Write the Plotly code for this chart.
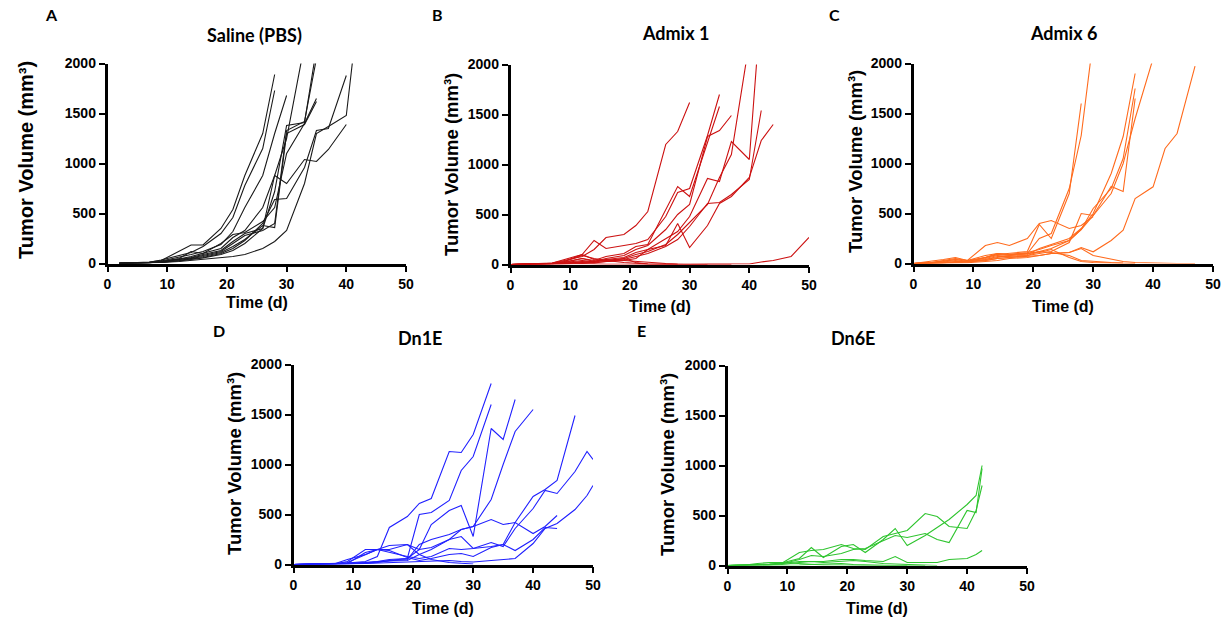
import plotly.graph_objects as go

N = None
W, H = 1228, 621

# ---------------- data (days, tumour volumes per mouse) ----------------
A_DAYS = [2, 5, 7, 9, 12, 14, 16, 19, 21, 23, 26, 28, 30, 33, 35, 37, 40, 42]
A_VOLS = [
    [2, 8, 15, 30, 120, 185, 185, 350, 540, 880, 1300, 1890, N, N, N, N, N, N],
    [1, 5, 12, 35, 80, 110, 170, 300, 460, 780, 1150, 1730, N, N, N, N, N, N],
    [1, 4, 10, 25, 60, 90, 120, 190, 320, 560, 880, 1300, 1680, N, N, N, N, N],
    [1, 3, 8, 20, 45, 70, 100, 150, 260, 330, 560, 880, 1250, 2190, N, N, N, N],
    [1, 3, 8, 18, 40, 60, 90, 130, 220, 300, 350, 720, 1380, 1410, 2150, N, N, N],
    [1, 3, 7, 15, 35, 55, 80, 120, 200, 280, 330, 400, 1330, 1420, 2050, N, N, N],
    [1, 3, 6, 12, 30, 50, 70, 110, 170, 240, 380, 360, 1300, 1390, 1620, N, N, N],
    [1, 3, 6, 12, 30, 45, 60, 100, 150, 230, 400, 640, 650, 960, 1330, 1350, 1880, N],
    [1, 2, 5, 10, 20, 30, 45, 60, 70, 90, 150, 220, 330, 800, 1300, 1370, 1480, 2520],
    [1, 3, 5, 12, 25, 40, 55, 90, 130, 200, 350, 880, 800, 1040, 1020, 1140, 1390, N],
    [1, 4, 8, 20, 50, 120, 100, 200, 290, 310, 420, 560, 1100, 1400, 1650, N, N, N],
]

B_DAYS = [0, 3, 5, 7, 9, 12, 14, 16, 19, 21, 23, 26, 28, 30, 33, 35, 37, 40, 42, 44, 47, 50]
B_VOLS = [
    [0, 5, 8, 15, 40, 80, 150, 270, 300, 390, 530, 1200, 1330, 1620, N, N, N, N, N, N, N, N],
    [0, 3, 6, 12, 30, 100, 240, 160, 190, 210, 250, 480, 720, 760, 1290, 1700, N, N, N, N, N, N],
    [0, 2, 5, 10, 25, 60, 40, 80, 110, 180, 200, 540, 780, 680, 1230, 1580, N, N, N, N, N, N],
    [0, 3, 5, 10, 20, 40, 30, 60, 90, 150, 190, 350, 500, 600, 1280, 1340, 1490, N, N, N, N, N],
    [0, 2, 4, 8, 15, 30, 20, 50, 70, 120, 150, 260, 330, 480, 860, 830, 1230, 1050, 2630, N, N, N],
    [0, 2, 4, 6, 12, 25, 30, 40, 60, 100, 130, 200, 300, 420, 600, 870, 1100, 2225, N, N, N, N],
    [0, 1, 3, 5, 10, 20, 15, 30, 50, 80, 110, 180, 250, 380, 610, 620, 700, 850, 1540, N, N, N],
    [0, 1, 3, 5, 8, 15, 20, 30, 40, 60, 150, 190, 410, 170, 390, 610, 680, 870, 1240, 1400, N, N],
    [0, 0, 2, 3, 5, 10, 5, 3, 2, 1, 0, 0, 0, 0, 5, 5, 5, 5, 25, 40, 80, 270],
    [0, 3, 6, 10, 30, 90, 60, 40, 20, 10, 5, 2, 0, 0, 0, N, N, N, N, N, N, N],
    [0, 2, 5, 15, 50, 100, 50, 30, 60, 20, 5, 0, 0, N, N, N, N, N, N, N, N, N],
    [0, 1, 3, 8, 20, 60, 30, 50, 40, 30, 20, 10, 5, 0, 0, 0, 0, N, N, N, N, N],
]

C_DAYS = [0, 3, 5, 7, 9, 12, 14, 16, 19, 21, 23, 26, 28, 30, 33, 35, 37, 40, 42, 44, 47]
C_VOLS = [
    [0, 10, 30, 50, 30, 80, 100, 90, 100, 250, 300, 750, 1280, 2240, N, N, N, N, N, N, N],
    [0, 5, 20, 40, 30, 60, 90, 100, 120, 390, 250, 700, 1600, N, N, N, N, N, N, N, N],
    [0, 3, 10, 20, 25, 50, 80, 90, 110, 140, 180, 230, 340, 480, 700, 1000, 1450, 2050, N, N, N],
    [0, 3, 8, 15, 20, 60, 90, 80, 90, 150, 190, 250, 350, 500, 900, 1270, 1900, N, N, N, N],
    [0, 2, 6, 12, 15, 40, 70, 70, 80, 120, 150, 230, 340, 550, 750, 1050, 1750, N, N, N, N],
    [0, 2, 5, 10, 15, 30, 50, 60, 80, 100, 120, 210, 500, 480, 770, 720, 1650, N, N, N, N],
    [0, 3, 8, 12, 20, 30, 50, 60, 70, 80, 100, 110, 160, 117, 230, 333, 650, 767, 1150, 1300, 1973],
    [0, 20, 40, 60, 30, 180, 210, 180, 250, 400, 430, 350, 380, 470, N, N, N, N, N, N, N],
    [0, 10, 25, 40, 20, 60, 100, 90, 100, 110, 140, 60, 20, 10, 5, 0, 0, N, N, N, N],
    [0, 5, 15, 30, 15, 40, 60, 80, 100, 120, 110, 80, 30, 20, 10, 5, N, N, N, N, N],
    [0, 3, 6, 10, 8, 20, 30, 50, 60, 80, 100, 110, 150, 80, 40, 20, 10, 5, 0, 0, 0],
]

D_DAYS = [0, 3, 5, 7, 9, 12, 14, 16, 19, 21, 23, 26, 28, 30, 33, 35, 37, 40, 42, 44, 47, 49, 50]
D_VOLS = [
    [0, 5, 8, 10, 15, 30, 80, 370, 480, 610, 660, 1130, 1120, 1300, 1810, N, N, N, N, N, N, N, N],
    [0, 3, 6, 8, 12, 20, 30, 50, 60, 500, 520, 640, 940, 1080, 1600, N, N, N, N, N, N, N, N],
    [0, 2, 5, 10, 50, 100, 150, 190, 200, 150, 400, 540, 590, 280, 1360, 1250, 1650, N, N, N, N, N, N],
    [0, 2, 4, 6, 10, 20, 30, 40, 50, 200, 250, 300, 350, 380, 650, 1000, 1330, 1550, N, N, N, N, N],
    [0, 1, 3, 5, 8, 15, 25, 35, 40, 100, 150, 250, 280, 160, 180, 200, 420, 680, 750, 840, 1490, N, N],
    [0, 2, 4, 6, 30, 150, 150, 120, 80, 60, 80, 160, 150, 160, 220, 180, 360, 560, 740, 710, 930, 1130, 1050],
    [0, 0, 2, 4, 6, 10, 15, 20, 25, 30, 35, 40, 30, 25, 40, 50, 60, 210, 360, 410, 550, 690, 790],
    [0, 1, 3, 5, 8, 12, 20, 40, 60, 150, 170, 250, 350, 380, 450, 400, 420, 310, 380, 490, N, N, N],
    [0, 2, 4, 6, 10, 120, 150, 140, 70, 40, 60, 100, 110, 80, 170, 200, 140, 250, 370, 360, N, N, N],
    [0, 3, 5, 8, 20, 100, 150, 150, 200, 100, 50, 20, 10, 5, N, N, N, N, N, N, N, N, N],
]

E_DAYS = [0, 3, 5, 7, 9, 12, 14, 16, 19, 21, 23, 26, 28, 30, 33, 35, 37, 40, 41.5, 42.5]
E_VOLS = [
    [0, 5, 10, 15, 25, 70, 180, 80, 190, 210, 130, 260, 370, 200, 300, 380, 460, 610, 700, 1000],
    [0, 3, 8, 12, 20, 130, 150, 160, 210, 170, 160, 290, 320, 350, 520, 490, 390, 370, 550, 800],
    [0, 2, 5, 10, 15, 60, 100, 90, 120, 160, 170, 250, 300, 280, 320, 260, 230, 550, 530, 970],
    [0, 1, 3, 5, 20, 40, 40, 40, 60, 60, 50, 40, 90, 30, 30, 30, 60, 70, 110, 150],
    [0, 5, 20, 30, 30, 20, 10, 5, 5, 0, 0, 0, 0, 0, 0, N, N, N, N, N],
    [0, 1, 3, 5, 10, 30, 40, 30, 40, 50, 40, 20, 15, 10, 5, 0, N, N, N, N],
    [0, 0, 1, 2, 3, 5, 10, 15, 20, 10, 5, 3, 0, 0, N, N, N, N, N, N],
]

X_TICKS = [0, 10, 20, 30, 40, 50]
Y_TICKS = [0, 500, 1000, 1500, 2000]

PANELS = [
    # letter, title, days, vols, colour, plot box in px (x0, x1, ytop, ybottom)
    ("A", "Saline (PBS)", A_DAYS, A_VOLS, "#1a1a1a", (107.5, 406, 63.5, 263.5)),
    ("B", "Admix 1", B_DAYS, B_VOLS, "#cc1111", (510.5, 809, 64.5, 264.5)),
    ("C", "Admix 6", C_DAYS, C_VOLS, "#ff6a1c", (913.5, 1213, 63.5, 263.5)),
    ("D", "Dn1E", D_DAYS, D_VOLS, "#2020ff", (293.5, 593, 364.5, 564.5)),
    ("E", "Dn6E", E_DAYS, E_VOLS, "#2ec42e", (727.5, 1027, 365.5, 565.5)),
]

# text positions (px): letter, title, ytitle, xtitle, ytitle font size
TEXT_POS = {
    "A": ((51, 15), (254, 35), (26, 160), (257, 303), 20),
    "B": ((437, 15), (675, 33), (451, 165), (660, 306), 18.5),
    "C": ((834, 15), (1063, 33), (855, 162), (1063, 306), 18.5),
    "D": ((219, 330), (420, 338), (234, 464), (443, 608), 18.5),
    "E": ((641, 330), (853, 338), (667, 465), (877, 608), 18.5),
}

fig = go.Figure()
annotations = []


def px(x):
    return x / W


def py(y):
    return 1 - y / H


for i, (letter, title, days, vols, colour, box) in enumerate(PANELS):
    n = "" if i == 0 else str(i + 1)
    x0, x1, yt, yb = box
    for v in vols:
        fig.add_trace(go.Scatter(
            x=days, y=v, mode="lines", connectgaps=False,
            line=dict(color=colour, width=1.1),
            xaxis="x" + n, yaxis="y" + n, showlegend=False, hoverinfo="skip"))
    axis_common = dict(showline=True, linewidth=2.5, linecolor="black",
                       ticks="outside", ticklen=6, tickwidth=2, tickcolor="black",
                       showgrid=False, zeroline=False, fixedrange=True, automargin=False,
                       tickfont=dict(family="Liberation Sans, Arial", size=14,
                                     color="black", weight="bold"))
    fig.layout["xaxis" + n] = dict(domain=[px(x0), px(x1)], range=[0, 50],
                                   tickvals=X_TICKS, anchor="y" + n, **axis_common)
    fig.layout["yaxis" + n] = dict(domain=[py(yb), py(yt)], range=[0, 2000],
                                   tickvals=Y_TICKS, anchor="x" + n, **axis_common)

    lp, tp, ytp, xtp, yfs = TEXT_POS[letter]
    annotations.append(dict(text=letter, x=px(lp[0]), y=py(lp[1]), xref="paper", yref="paper",
                            showarrow=False, xanchor="center", yanchor="middle",
                            font=dict(family="Lato, Open Sans", size=16, color="black", weight="bold")))
    annotations.append(dict(text=title, x=px(tp[0]), y=py(tp[1]), xref="paper", yref="paper",
                            showarrow=False, xanchor="center", yanchor="middle",
                            font=dict(family="Lato, Open Sans", size=18, color="black", weight="bold")))
    annotations.append(dict(text="Tumor Volume (mm³)", x=px(ytp[0]), y=py(ytp[1]),
                            xref="paper", yref="paper", showarrow=False, textangle=-90,
                            xanchor="center", yanchor="middle",
                            font=dict(family="Liberation Sans, Arial", size=yfs, color="black", weight="bold")))
    annotations.append(dict(text="Time (d)", x=px(xtp[0]), y=py(xtp[1]), xref="paper", yref="paper",
                            showarrow=False, xanchor="center", yanchor="middle",
                            font=dict(family="Liberation Sans, Arial", size=16, color="black", weight="bold")))

fig.update_layout(template="none", width=W, height=H, margin=dict(l=0, r=0, t=0, b=0, pad=0),
                  paper_bgcolor="white", plot_bgcolor="white",
                  annotations=annotations, showlegend=False)

fig.write_html("out.html", config={"displayModeBar": False},
               post_script="document.body.style.margin='0';document.body.style.overflow='hidden';")
